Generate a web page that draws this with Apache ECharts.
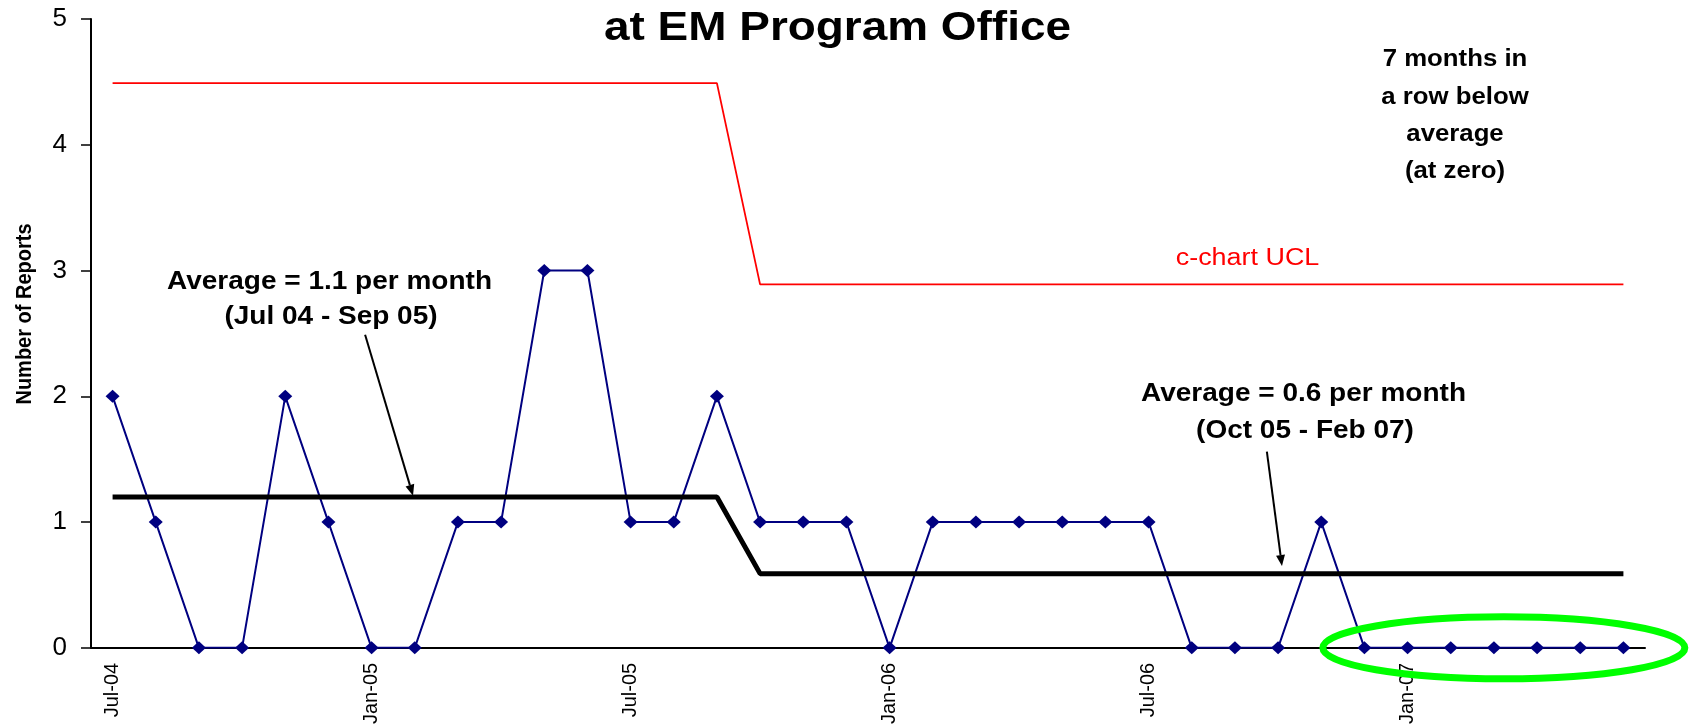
<!DOCTYPE html>
<html>
<head>
<meta charset="utf-8">
<script src="https://cdn.jsdelivr.net/npm/echarts@6/dist/echarts.min.js"></script>
<style>
html,body{margin:0;padding:0;background:#fff;}
#c{width:1689px;height:727px;}
</style>
</head>
<body>
<div id="c"></div>
<script>
// ---- data ----
const months = ['Jul-04','Aug-04','Sep-04','Oct-04','Nov-04','Dec-04',
  'Jan-05','Feb-05','Mar-05','Apr-05','May-05','Jun-05',
  'Jul-05','Aug-05','Sep-05','Oct-05','Nov-05','Dec-05',
  'Jan-06','Feb-06','Mar-06','Apr-06','May-06','Jun-06',
  'Jul-06','Aug-06','Sep-06','Oct-06','Nov-06','Dec-06',
  'Jan-07','Feb-07','Mar-07','Apr-07','May-07','Jun-07'];
const reports = [2,1,0,0,2,1, 0,0,1,1,3,3, 1,1,2,1,1,1, 0,1,1,1,1,1, 1,0,0,0,1,0, 0,0,0,0,0,0];
const ucl = [4.49,4.49,4.49,4.49,4.49,4.49, 4.49,4.49,4.49,4.49,4.49,4.49, 4.49,4.49,4.49,2.89,2.89,2.89,
  2.89,2.89,2.89,2.89,2.89,2.89, 2.89,2.89,2.89,2.89,2.89,2.89, 2.89,2.89,2.89,2.89,2.89,2.89];
const average = [1.2,1.2,1.2,1.2,1.2,1.2, 1.2,1.2,1.2,1.2,1.2,1.2, 1.2,1.2,1.2,0.59,0.59,0.59,
  0.59,0.59,0.59,0.59,0.59,0.59, 0.59,0.59,0.59,0.59,0.59,0.59, 0.59,0.59,0.59,0.59,0.59,0.59];
const yTicks = [0,1,2,3,4,5];

const titleText = 'at EM Program Office';
const yName = 'Number of Reports';
const note1 = ['Average = 1.1 per month', '(Jul 04 - Sep 05)'];
const note2 = ['Average = 0.6 per month', '(Oct 05 - Feb 07)'];
const uclLabel = 'c-chart UCL';
const runNote = ['7 months in', 'a row below', 'average', '(at zero)'];

// ---- chart ----
const FONT = '"Liberation Sans", Arial, sans-serif';
const chart = echarts.init(document.getElementById('c'), null, {renderer: 'canvas'});
chart.setOption({
  animation: false,
  backgroundColor: '#ffffff',
  grid: {left: 91, right: 44, top: 19, bottom: 77.5, containLabel: false},
  xAxis: {
    type: 'category',
    data: months,
    boundaryGap: true,
    axisLine: {lineStyle: {color: '#000', width: 2}},
    axisTick: {interval: 5, length: 8, lineStyle: {color: '#000', width: 1.5}},
    axisLabel: {interval: 5, rotate: 90, margin: 15, fontSize: 20, color: '#000', fontFamily: FONT},
    splitLine: {show: false}
  },
  yAxis: {
    type: 'value',
    min: yTicks[0], max: yTicks[yTicks.length - 1], interval: 1,
    axisLine: {show: true, lineStyle: {color: '#000', width: 2}},
    axisTick: {show: true, length: 10, lineStyle: {color: '#000', width: 1.5}},
    axisLabel: {margin: 24, fontSize: 26, color: '#000', fontFamily: FONT},
    splitLine: {show: false}
  },
  series: [
    {
      name: 'Reports', type: 'line', data: reports,
      symbol: 'diamond', symbolSize: [14, 13],
      itemStyle: {color: '#000080'},
      lineStyle: {color: '#000080', width: 2},
      z: 2
    },
    {
      name: 'Average', type: 'line', data: average, symbol: 'none',
      lineStyle: {color: '#000', width: 5}, z: 3
    },
    {
      name: 'UCL', type: 'line', data: ucl, symbol: 'none',
      lineStyle: {color: '#ff0000', width: 1.8}, z: 3
    }
  ]
});

// helpers mapping (fractional category index, value) -> pixel
function px(i, v) {
  const a = chart.convertToPixel({xAxisIndex: 0, yAxisIndex: 0}, [0, v]);
  const b = chart.convertToPixel({xAxisIndex: 0, yAxisIndex: 0}, [1, v]);
  return [a[0] + i * (b[0] - a[0]), a[1]];
}
const SX = 1.12;
function txt(text, x, y, size, bold, color, sx) {
  return {
    type: 'text', x: x, y: y, scaleX: sx || SX, z: 100,
    style: {text: text, x: 0, y: 0, align: 'center', verticalAlign: 'middle',
      font: (bold ? 'bold ' : '') + size + 'px ' + FONT, fill: color || '#000'}
  };
}
function arrow(p0, p1) {
  const dx = p1[0] - p0[0], dy = p1[1] - p0[1];
  const L = Math.sqrt(dx * dx + dy * dy);
  const ux = dx / L, uy = dy / L;
  const hl = 11, hw = 4.5;
  const bx = p1[0] - ux * hl, by = p1[1] - uy * hl;
  return [
    {type: 'line', z: 100, shape: {x1: p0[0], y1: p0[1], x2: bx, y2: by},
      style: {stroke: '#000', lineWidth: 2}},
    {type: 'polygon', z: 100, shape: {points: [[p1[0], p1[1]], [bx - uy * hw, by + ux * hw], [bx + uy * hw, by - ux * hw]]},
      style: {fill: '#000'}}
  ];
}

const a1s = px(5.85, 2.49), a1e = px(6.96, 1.21);
const a2s = px(26.74, 1.56), a2e = px(27.09, 0.65);
const ell = px(32.23, 0);

const g = [];
g.push(txt(titleText, 837.5, 28.5, 41, true));
g.push(txt(note1[0], 329.5, 282, 25, true));
g.push(txt(note1[1], 331, 317, 25, true));
g.push(txt(note2[0], 1303.5, 394, 25, true));
g.push(txt(note2[1], 1305, 431, 25, true));
g.push(txt(uclLabel, 1247.5, 258.5, 23, false, '#ff0000', 1.17));
g.push(txt(runNote[0], 1455, 60, 23, true));
g.push(txt(runNote[1], 1455, 98, 23, true));
g.push(txt(runNote[2], 1455, 135, 23, true));
g.push(txt(runNote[3], 1455, 172, 23, true));
g.push({
  type: 'text', x: 25, y: 314, rotation: Math.PI / 2, scaleY: SX, z: 100,
  style: {text: yName, x: 0, y: 0, align: 'center', verticalAlign: 'middle',
    font: 'bold 20px ' + FONT, fill: '#000'}
});
arrow(a1s, a1e).forEach(e => g.push(e));
arrow(a2s, a2e).forEach(e => g.push(e));
g.push({
  type: 'ellipse', z: 101,
  shape: {cx: ell[0], cy: ell[1], rx: 181, ry: 31},
  style: {fill: 'none', stroke: '#00ff00', lineWidth: 7}
});
chart.setOption({graphic: g});
</script>
</body>
</html>
